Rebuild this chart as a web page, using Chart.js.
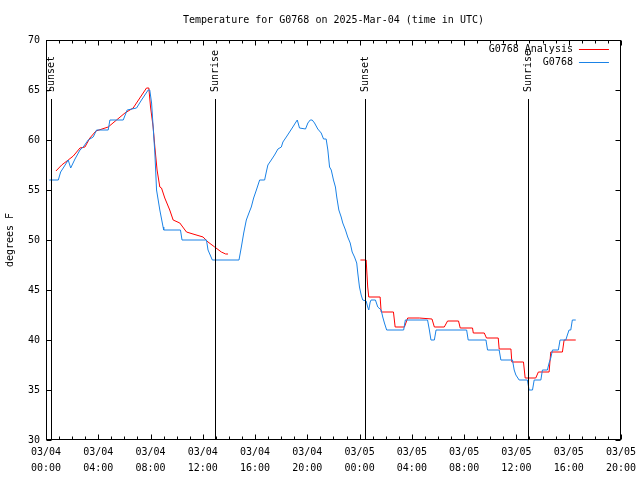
<!DOCTYPE html>
<html><head><meta charset="utf-8">
<script src="https://cdn.jsdelivr.net/npm/chart.js@4"></script>
<style>html,body{margin:0;padding:0;background:#fff}canvas{display:block}</style>
</head><body>
<canvas id="c" width="640" height="480"></canvas>
<script>
const titleText = 'Temperature for G0768 on 2025-Mar-04 (time in UTC)';
const seriesNames = ['G0768 Analysis', 'G0768'];
const yAxisTitle = 'degrees F';
// hours since 03/04 00:00 UTC
const obsHours = [0.25,0.94,1.12,1.32,1.70,1.89,2.22,2.60,2.85,3.23,3.61,3.87,4.76,4.89,5.91,6.21,6.93,7.31,7.82,7.94,8.08,8.20,8.33,8.46,8.71,8.96,9.01,10.29,10.41,12.28,12.40,12.73,14.77,14.95,15.13,15.33,15.53,15.71,15.89,16.10,16.35,16.73,16.86,16.98,17.24,17.49,17.75,18.01,18.13,18.39,18.64,18.89,19.08,19.23,19.40,19.86,20.04,20.22,20.37,20.55,20.80,21.06,21.24,21.44,21.57,21.70,21.83,22.00,22.15,22.25,22.41,22.59,22.71,22.92,23.09,23.28,23.43,23.61,23.78,23.86,23.99,24.12,24.24,24.50,24.62,24.70,24.81,24.88,25.21,25.39,25.65,25.77,25.90,26.07,27.37,27.50,29.20,29.34,29.46,29.72,29.85,32.19,32.31,33.67,33.79,34.68,34.81,35.70,35.83,35.96,36.21,36.84,36.97,37.23,37.36,37.87,37.99,38.37,38.50,38.63,38.76,39.21,39.34,39.78,39.90,40.03,40.16,40.28,40.54];
const obsTemps = [56,56,56.8,57.2,58,57.2,58.1,59,59.3,60,60.3,61,61,62,62,63,63.2,64,65,65,63.7,61.3,58.7,55,53,51.3,51,51,50,50,49,48,48,49.3,50.7,52,52.7,53.3,54.2,55,56,56,56.8,57.5,58,58.5,59.1,59.3,59.8,60.3,60.8,61.3,61.7,62,61.2,61.1,61.7,62,62,61.7,61.1,60.7,60.1,60.1,59,57.3,57,56,55.3,54.3,53,52.3,51.7,51,50.3,49.7,48.8,48.3,47.7,46.7,45.3,44.5,44,43.9,43.3,43,43.8,44,44,43.3,43,42.3,41.7,41,41,42,42,41,40,40,41,41,40,40,39,39,38,38,37,36.5,36,36,35,35,36,36,37,37,37.7,38.2,39,39,40,40,40.5,41,41,42,42];
const anaHours = [0.76,1.20,1.70,2.09,2.60,2.98,3.36,3.82,4.76,5.40,6.04,6.67,7.18,7.69,7.87,8.00,8.20,8.33,8.50,8.71,8.84,9.09,9.47,9.73,10.24,10.75,11.25,12.02,12.40,12.91,13.42,13.75,13.93,19,24.06,24.50,24.62,24.70,25.57,25.65,26.59,26.72,27.43,27.68,28.57,29.54,29.72,30.48,30.73,31.57,31.70,32.64,32.70,33.54,33.71,34.61,34.68,35.58,35.65,36.54,36.67,37.48,37.68,38.50,38.63,39.52,39.65,40.54];
const anaTemps = [56.9,57.5,58,58.4,59.2,59.3,60.2,60.9,61.3,62,62.7,63.2,64.2,65.2,65.2,63.3,61.3,59.3,57,55.3,55.2,54.2,53,52,51.7,50.8,50.6,50.3,49.8,49.3,48.8,48.6,48.6,null,48,48,45.3,44.3,44.3,42.8,42.8,41.3,41.3,42.2,42.2,42.1,41.3,41.3,41.9,41.9,41.2,41.2,40.7,40.7,40.2,40.2,39.1,39.1,37.8,37.8,36.2,36.2,36.8,36.8,38.8,38.8,40,40];
const eventHours = [0.41, 12.97, 24.39, 36.92];
const eventNames = ['Sunset', 'Sunrise', 'Sunset', 'Sunrise'];
const xTickLabels = [['03/04','00:00'],['03/04','04:00'],['03/04','08:00'],['03/04','12:00'],['03/04','16:00'],['03/04','20:00'],['03/05','00:00'],['03/05','04:00'],['03/05','08:00'],['03/05','12:00'],['03/05','16:00'],['03/05','20:00']];
const yTickLabels = ['30','35','40','45','50','55','60','65','70'];

const FONT = '"DejaVu Sans Mono", "Liberation Mono", monospace';
const RED = '#ff0000', BLUE = '#1a82e6';
Chart.defaults.font.family = FONT;
Chart.defaults.font.size = 10;
Chart.defaults.color = '#000';

const decor = {
  id: 'decor',
  afterDatasetsDraw(chart) {
    const {ctx, chartArea: a, scales: {x, y}} = chart;
    ctx.save();
    ctx.strokeStyle = '#000';
    ctx.fillStyle = '#000';
    ctx.lineWidth = 1;
    ctx.font = '10px ' + FONT;
    // title centred over the plot area
    ctx.textAlign = 'center'; ctx.textBaseline = 'middle';
    ctx.fillText(titleText, (a.left + a.right) / 2, a.top / 2);
    // event lines and labels
    eventHours.forEach((h, i) => {
      const px = Math.round(x.getPixelForValue(h)) + 0.5;
      ctx.beginPath(); ctx.moveTo(px, a.top + 59); ctx.lineTo(px, a.bottom); ctx.stroke();
      ctx.save();
      ctx.translate(px, a.top + 52);
      ctx.rotate(-Math.PI / 2);
      ctx.textAlign = 'left'; ctx.textBaseline = 'middle';
      ctx.fillText(eventNames[i], 0, 0);
      ctx.restore();
    });
    // frame
    const L = Math.round(a.left) + 0.5, R = Math.round(a.right) - 0.5;
    const T = Math.round(a.top) + 0.5, B = Math.round(a.bottom) - 0.5;
    ctx.strokeRect(L, T, R - L, B - T);
    // x ticks (hourly minor, 4-hourly major), bottom and top; y ticks left and right
    ctx.beginPath();
    for (let h = x.min; h <= x.max; h++) {
      const px = Math.round(x.getPixelForValue(h)) + 0.5;
      const len = (h % 4 === 0) ? 5 : 3;
      ctx.moveTo(px, B); ctx.lineTo(px, B - len);
      ctx.moveTo(px, T); ctx.lineTo(px, T + len);
    }
    for (let v = y.min; v <= y.max; v += 5) {
      const py = Math.round(y.getPixelForValue(v)) + 0.5;
      ctx.moveTo(L, py); ctx.lineTo(L + 5, py);
      ctx.moveTo(R, py); ctx.lineTo(R - 5, py);
    }
    ctx.stroke();
    // legend
    const rows = [[seriesNames[0], RED], [seriesNames[1], BLUE]];
    rows.forEach(([name, col], i) => {
      const yy = a.top + 9 + i * 13;
      ctx.fillStyle = '#000';
      ctx.textAlign = 'right'; ctx.textBaseline = 'middle';
      ctx.fillText(name, a.right - 48, yy);
      ctx.strokeStyle = col;
      ctx.beginPath(); ctx.moveTo(a.right - 42, Math.round(yy) + 0.5); ctx.lineTo(a.right - 12, Math.round(yy) + 0.5); ctx.stroke();
    });
    ctx.restore();
  }
};

new Chart(document.getElementById('c'), {
  type: 'line',
  data: {
    datasets: [
      {
        label: seriesNames[0],
        data: anaHours.map((h, i) => ({x: h, y: anaTemps[i]})),
        borderColor: RED, backgroundColor: RED, borderWidth: 1,
        pointRadius: 0, tension: 0, spanGaps: false, order: 1
      },
      {
        label: seriesNames[1],
        data: obsHours.map((h, i) => ({x: h, y: obsTemps[i]})),
        borderColor: BLUE, backgroundColor: BLUE, borderWidth: 1,
        pointRadius: 0, tension: 0, spanGaps: false, order: 0
      }
    ]
  },
  options: {
    responsive: false,
    animation: false,
    devicePixelRatio: 1,
    layout: {padding: {left: 0, right: 18, top: 40, bottom: 0}},
    plugins: {
      legend: {display: false},
      tooltip: {enabled: false},
      title: {display: false}
    },
    scales: {
      x: {
        type: 'linear', min: 0, max: 44,
        grid: {display: false, drawTicks: false},
        border: {display: false},
        ticks: {
          stepSize: 4, autoSkip: false, maxRotation: 0, minRotation: 0,
          padding: 4, color: '#000',
          font: {family: FONT, size: 10, lineHeight: 1.6},
          callback: (v) => xTickLabels[Math.round(v / 4)]
        },
        afterFit: (s) => { s.height = 40; }
      },
      y: {
        min: 30, max: 70,
        grid: {display: false, drawTicks: false},
        border: {display: false},
        ticks: {
          stepSize: 5, padding: 6, color: '#000',
          font: {family: FONT, size: 10},
          callback: (v) => yTickLabels[Math.round((v - 30) / 5)]
        },
        title: {
          display: true, text: yAxisTitle, color: '#000',
          font: {family: FONT, size: 10}, padding: {top: 4, bottom: 0}
        },
        afterFit: (s) => { s.width = 46; }
      }
    }
  },
  plugins: [decor]
});
</script>
</body></html>
